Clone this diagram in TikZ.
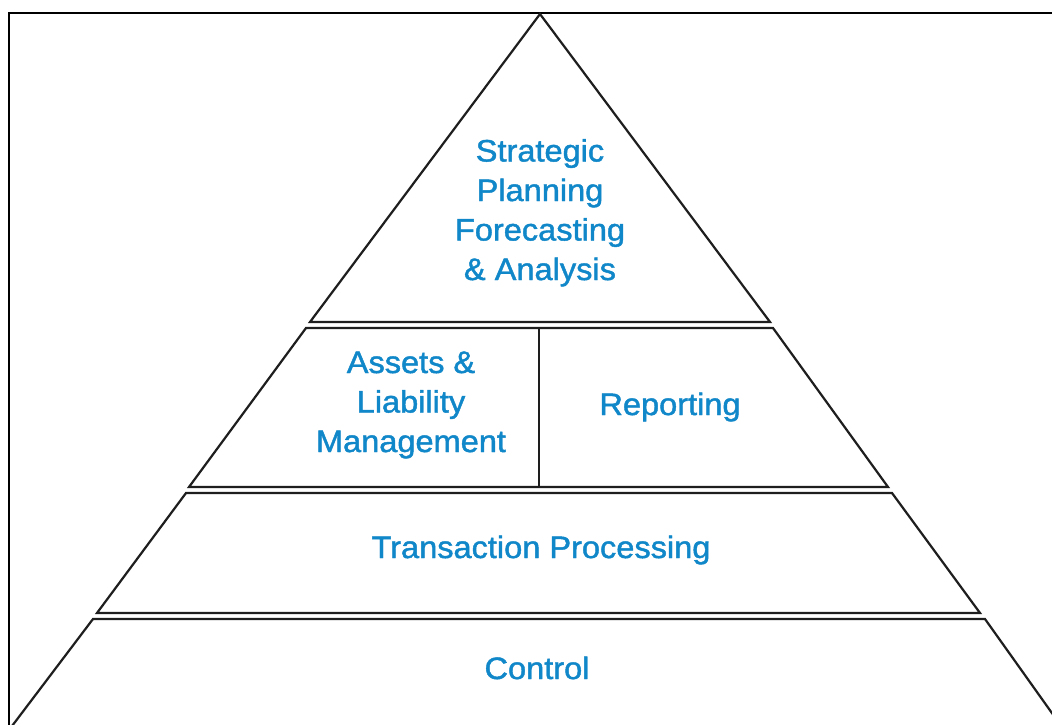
\documentclass[tikz,border=0pt]{standalone}
\usepackage{fontspec}
\newfontfamily\pyrfont[FakeStretch=1.05,FakeBold=1.4]{Liberation Sans}
\definecolor{pyrblue}{RGB}{16,135,200}
\definecolor{pyrline}{RGB}{30,30,30}
\tikzset{
  layer/.style={draw=pyrline, line width=2.2pt, line join=miter, fill=white},
  frameline/.style={draw=black, line width=2pt},
  label/.style={text=pyrblue, font=\pyrfont\fontsize{31}{39.5}\selectfont, align=center, inner sep=0pt, anchor=base}
}
\begin{document}
\begin{tikzpicture}[x=1pt,y=-1pt]
\useasboundingbox (0,0) rectangle (1052,724);
\fill[white] (0,0) rectangle (1052,724);
\begin{scope}
\clip (0,0) rectangle (1052,724);
% frame
\coordinate (fbl) at (9,726);
\coordinate (ftl) at (9,13);
\coordinate (ftr) at (1054,13);
\draw[frameline] (fbl) -- (ftl) -- (ftr);
% layers
\draw[layer] (540,14) -- (770,322) -- (310,322) -- cycle;
\draw[layer] (306,328) -- (773,328) -- (888,487) -- (189,487) -- cycle;
\draw[layer] (539,328) -- (539,487);
\draw[layer] (186,493) -- (892,493) -- (980,613) -- (97,613) -- cycle;
\draw[layer] (93,619) -- (985,619) -- (1064,730) -- (9,730) -- cycle;
% labels
\node[label] (strat) at (540,280) {Strategic\\Planning\\Forecasting\\\& Analysis};
\node[label] (alm) at (411,452) {Assets \&\\Liability\\Management};
\node[label] (rep) at (670,415) {Reporting};
\node[label] (tp) at (541,558) {Transaction Processing};
\node[label] (ctl) at (537,679) {Control};
\end{scope}
\end{tikzpicture}
\end{document}
